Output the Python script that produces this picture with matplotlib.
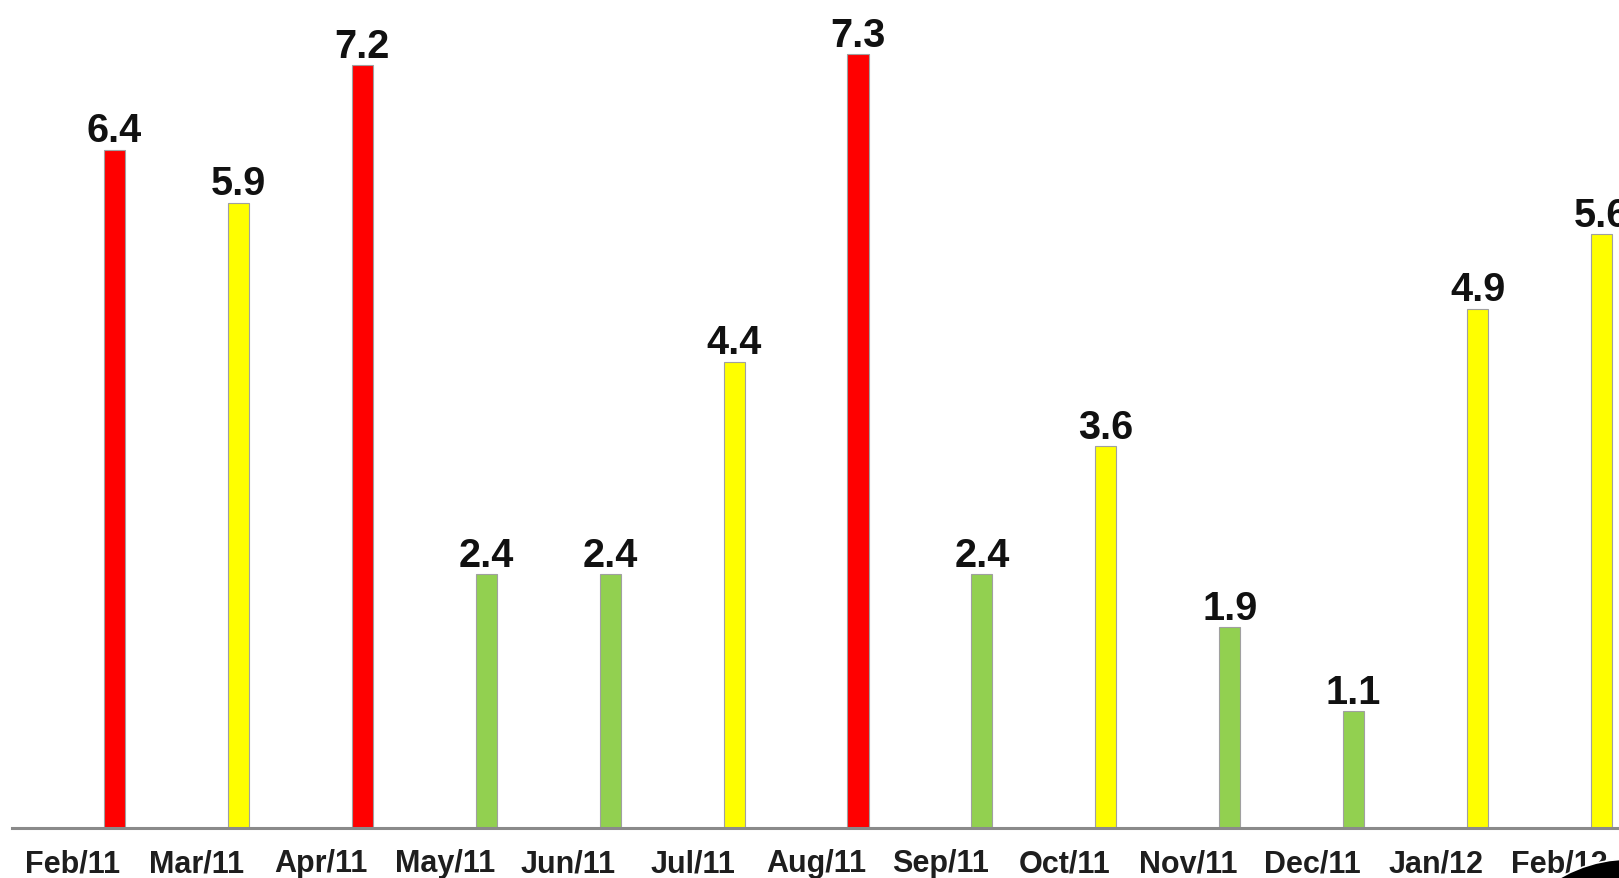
import matplotlib.pyplot as plt
from matplotlib.patches import Circle
from matplotlib.transforms import IdentityTransform, ScaledTranslation

months = ['Feb/11', 'Mar/11', 'Apr/11', 'May/11', 'Jun/11', 'Jul/11', 'Aug/11',
          'Sep/11', 'Oct/11', 'Nov/11', 'Dec/11', 'Jan/12', 'Feb/12']
values = [6.4, 5.9, 7.2, 2.4, 2.4, 4.4, 7.3, 2.4, 3.6, 1.9, 1.1, 4.9, 5.6]
status = ['red', 'yellow', 'red', 'green', 'green', 'yellow', 'red',
          'green', 'yellow', 'green', 'green', 'yellow', 'yellow']

palette = {'red': '#ff0000', 'yellow': '#ffff00', 'green': '#92d050'}

plt.rcParams['font.family'] = ['Liberation Sans', 'DejaVu Sans']

W, H = 1619, 879
fig = plt.figure(figsize=(W / 100, H / 100), dpi=100)
ax = fig.add_axes([12 / W, 50 / H, (W - 12) / W, (H - 50) / H])

x = list(range(len(months)))
ax.bar(x, values, width=0.17, color=[palette[s] for s in status],
       edgecolor='#a0a0a0', linewidth=0.8, zorder=2)

for xi, v in zip(x, values):
    ax.annotate(f'{v:.1f}', (xi, v), xytext=(0, 5.8), textcoords='offset points',
                ha='center', va='baseline', fontsize=28.5, fontweight='bold',
                color='#111111', annotation_clip=False)

ax.set_xlim(-0.828, 12.142)
ax.set_ylim(0, 7.82)
ax.set_xticks(x)
ax.set_xticklabels(months, fontsize=22, fontweight='bold', color='#1e1e1e')
ax.tick_params(axis='x', length=0, pad=14.5)
ax.set_yticks([])

# the month labels sit a bit to the left of their bars in the original
shift = ScaledTranslation(-0.416, 0, fig.dpi_scale_trans)
for lab in ax.get_xticklabels():
    lab.set_transform(lab.get_transform() + shift)

for side in ['top', 'right', 'left']:
    ax.spines[side].set_visible(False)
ax.spines['bottom'].set_color('#8a8a8a')
ax.spines['bottom'].set_linewidth(2.2)
ax.spines['bottom'].set_zorder(3)

# dark corner artefact at the bottom-right of the screenshot
blob = Circle((1630, -121), 140, transform=IdentityTransform(),
              facecolor='black', edgecolor='white', linewidth=1.2, zorder=10)
fig.add_artist(blob)

fig.savefig('out.png', dpi=100, facecolor='white')
